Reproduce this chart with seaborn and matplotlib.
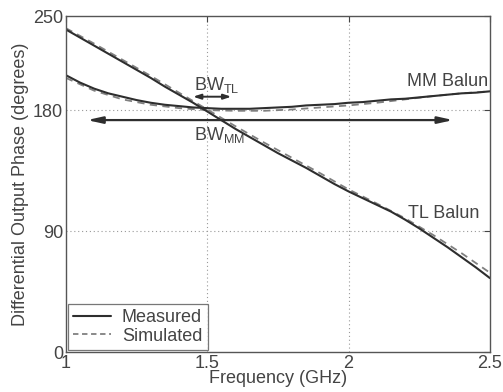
import matplotlib
matplotlib.use("Agg")
import matplotlib.pyplot as plt
import seaborn as sns
import pandas as pd
import numpy as np

# ---- data ----
freq_meas = [1.00, 1.05, 1.10, 1.15, 1.20, 1.25, 1.30, 1.35, 1.40, 1.45, 1.50,
             1.55, 1.60, 1.65, 1.70, 1.75, 1.80, 1.85, 1.90, 1.95, 2.00,
             2.05, 2.10, 2.15, 2.20, 2.25, 2.30, 2.35, 2.40, 2.45, 2.50]
tl_meas = [240, 234, 228, 222, 216, 210, 204, 197.5, 191.5, 185.5, 179,
           172.5, 166, 160, 154, 148, 142.5, 137, 131, 125, 119.5,
           114.5, 109.5, 104.5, 98.5, 92, 85, 78, 70.5, 63, 55]
mm_meas = [206, 200.5, 196, 192.5, 190, 187.5, 185.5, 184, 183, 182, 181.5,
           181, 181, 181, 181.5, 182, 182.5, 183.5, 184, 184.5, 185.5,
           186, 187, 188, 188.5, 189.5, 190.5, 191.5, 192.5, 193, 194]

freq_sim = [1.0, 1.1, 1.2, 1.3, 1.4, 1.5, 1.6, 1.7, 1.8, 1.9, 2.0,
            2.1, 2.2, 2.3, 2.4, 2.5]
tl_sim = [241, 229.5, 217.5, 205.5, 193, 180.5, 168, 156, 144.5, 133, 121,
          110.5, 99.5, 87, 73.5, 59]
mm_sim = [204, 194.5, 188, 184, 181.5, 180, 179.5, 179.5, 180.5, 182, 183.5,
          185.5, 188, 190.5, 192.5, 194]

x_ticks = [1, 1.5, 2, 2.5]
x_tick_labels = ["1", "1.5", "2", "2.5"]
y_ticks = [0, 90, 180, 250]
y_tick_labels = ["0", "90", "180", "250"]

# ---- style ----
sns.set_style("white")
plt.rcParams["font.family"] = ["Liberation Sans", "DejaVu Sans"]
plt.rcParams["mathtext.fontset"] = "custom"
plt.rcParams["mathtext.rm"] = "Liberation Sans"
plt.rcParams["mathtext.it"] = "Liberation Sans"

FS = 13

fig = plt.figure(figsize=(5.03, 3.92), dpi=100)
ax = fig.add_axes([0.131, 0.102, 0.843, 0.857])

meas_color = "#2e2e2e"
sim_color = "#808080"

df_meas = pd.DataFrame({"f": freq_meas * 2,
                        "phase": tl_meas + mm_meas,
                        "balun": ["TL"] * len(freq_meas) + ["MM"] * len(freq_meas)})
df_sim = pd.DataFrame({"f": freq_sim * 2,
                       "phase": tl_sim + mm_sim,
                       "balun": ["TL"] * len(freq_sim) + ["MM"] * len(freq_sim)})

sns.lineplot(data=df_sim, x="f", y="phase", units="balun", estimator=None,
             color=sim_color, lw=1.3, ls=(0, (4, 3)), ax=ax, sort=False)
sns.lineplot(data=df_meas, x="f", y="phase", units="balun", estimator=None,
             color=meas_color, lw=1.5, ax=ax, sort=False)

ax.set_xlim(1, 2.5)
ax.set_ylim(0, 250)
ax.set_xticks(x_ticks)
ax.set_xticklabels(x_tick_labels)
ax.set_yticks(y_ticks)
ax.set_yticklabels(y_tick_labels)
ax.tick_params(direction="in", length=4, labelsize=FS, colors="#444444",
               top=True, right=True, pad=2)
for s in ax.spines.values():
    s.set_color("#555555")
    s.set_linewidth(1.0)

# dotted grid at inner ticks
for gx in [1.5, 2]:
    ax.axvline(gx, color="#999999", ls=(0, (1, 2.5)), lw=0.8, zorder=0)
for gy in [90, 180]:
    ax.axhline(gy, color="#999999", ls=(0, (1, 2.5)), lw=0.8, zorder=0)

ax.set_xlabel("Frequency (GHz)", fontsize=FS, color="#444444", labelpad=-1)
ax.set_ylabel("Differential Output Phase (degrees)", fontsize=FS,
              color="#444444", labelpad=3)

# annotations
short_arrow = dict(arrowstyle="<|-|>,head_length=0.45,head_width=0.15",
                   color=meas_color, lw=1.4, shrinkA=0, shrinkB=0)
long_arrow = dict(arrowstyle="<|-|>,head_length=0.9,head_width=0.2",
                  color=meas_color, lw=1.6, shrinkA=0, shrinkB=0)
ax.annotate("", xy=(1.45, 190), xytext=(1.585, 190), arrowprops=short_arrow)
ax.annotate("", xy=(1.075, 172.6), xytext=(2.37, 172.6), arrowprops=long_arrow)

ax.text(1.452, 195, r"BW$_{\mathrm{TL}}$", fontsize=FS, color="#444444",
        ha="left", va="baseline")
ax.text(1.452, 157.5, r"BW$_{\mathrm{MM}}$", fontsize=FS, color="#444444",
        ha="left", va="baseline")
ax.text(2.495, 198, "MM Balun", fontsize=FS, color="#444444",
        ha="right", va="baseline")
ax.text(2.21, 100, "TL Balun", fontsize=FS, color="#444444",
        ha="left", va="baseline")

# legend
from matplotlib.lines import Line2D
handles = [Line2D([], [], color=meas_color, lw=1.5),
           Line2D([], [], color=sim_color, lw=1.3, ls=(0, (3, 2)))]
leg = ax.legend(handles, ["Measured", "Simulated"], loc="lower left",
                fontsize=FS, frameon=True, fancybox=False, handlelength=2.1,
                handletextpad=0.6, borderpad=0.3, labelspacing=0.1,
                borderaxespad=0.1)
leg.get_frame().set_edgecolor("#555555")
leg.get_frame().set_linewidth(0.9)
for t in leg.get_texts():
    t.set_color("#444444")

fig.savefig("out.png", dpi=100)
